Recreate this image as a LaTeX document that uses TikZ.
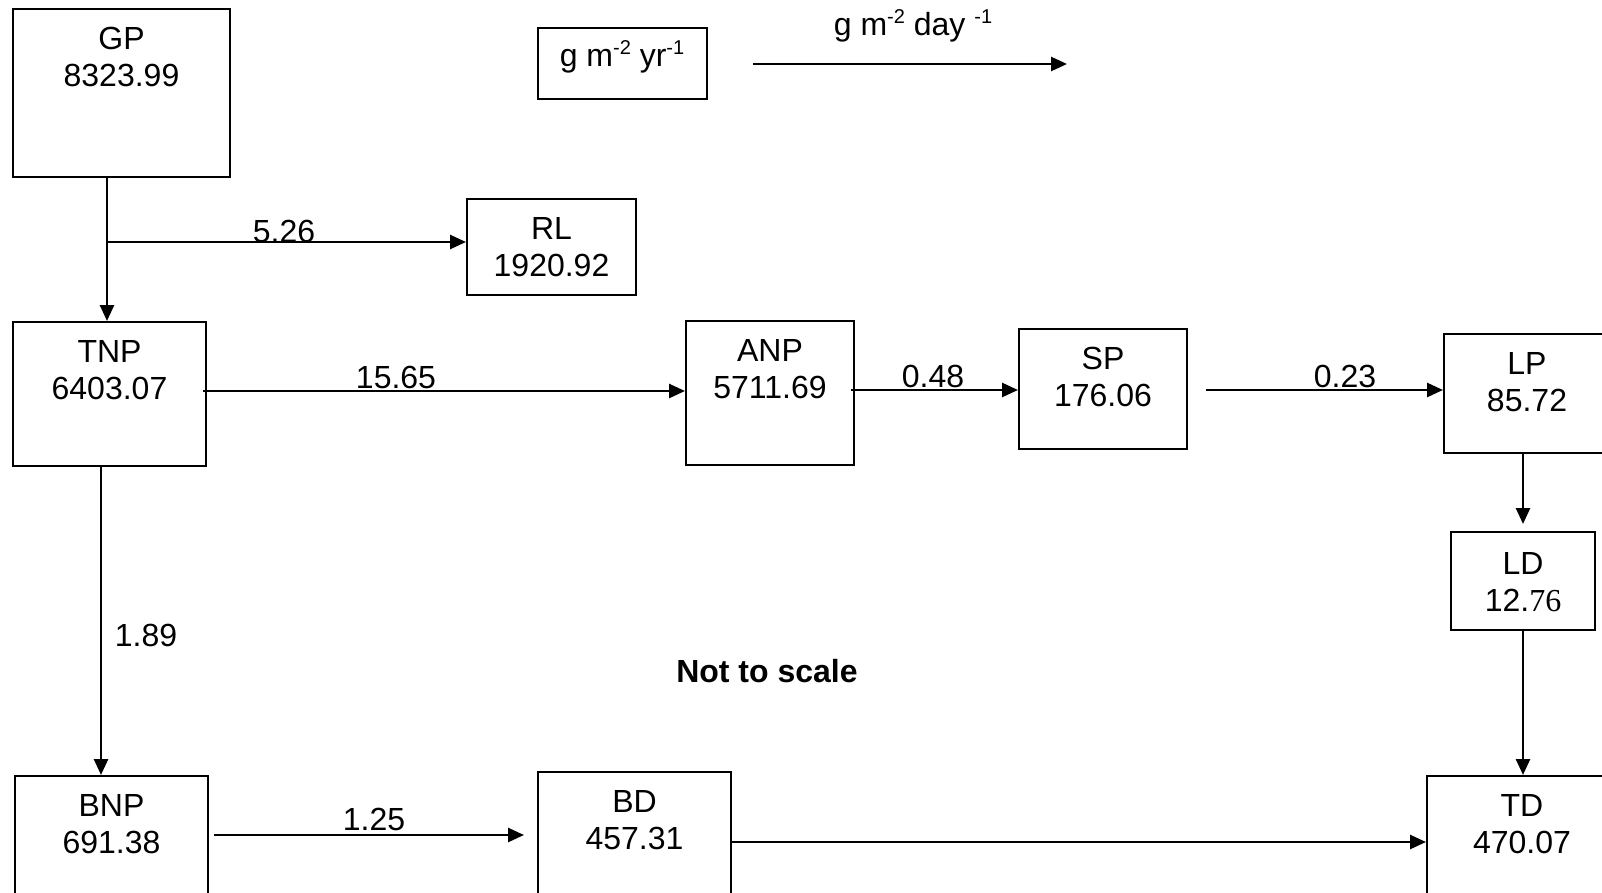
\documentclass[tikz,border=0pt]{standalone}
\usepackage{fontspec}
\setmainfont{Liberation Sans}
\newfontfamily\serifnum{Liberation Serif}
\usetikzlibrary{arrows.meta}
\newcommand\mysup[1]{\raisebox{12pt}{\fontsize{20}{20}\selectfont #1}}
\begin{document}
\begin{tikzpicture}[x=1pt,y=-1pt,
 box/.style={draw, line width=2pt, inner sep=0pt},
 txt/.style={align=center, inner sep=0pt, anchor=north, font=\fontsize{32}{37}\selectfont},
 lbl/.style={inner sep=0pt, anchor=base, font=\fontsize{32}{37}\selectfont},
 arr/.style={line width=2.6pt, -{Triangle[length=16pt,width=14pt]}},
 ]
\useasboundingbox (0,0) rectangle (1602,893);
\fill[white] (0,0) rectangle (1602,893);
\clip (0,0) rectangle (1602,893);

% boxes
\node[box, minimum width=217pt, minimum height=168pt] (gp) at (121.5,93) {};
\node[txt] (gpT) at ([yshift=-19pt]gp.north) {GP\\8323.99};

\node[box, minimum width=169pt, minimum height=71pt] (unit) at (622.5,63.5) {};
\node[lbl] (unitT) at (622,67) {g m\mysup{-2} yr\mysup{-1}};

\node[box, minimum width=169pt, minimum height=96pt] (rl) at (551.5,247) {};
\node[txt] (rlT) at ([yshift=-19pt]rl.north) {RL\\1920.92};

\node[box, minimum width=193pt, minimum height=144pt] (tnp) at (109.5,394) {};
\node[txt] (tnpT) at ([yshift=-19pt]tnp.north) {TNP\\6403.07};

\node[box, minimum width=168pt, minimum height=144pt] (anp) at (770,393) {};
\node[txt] (anpT) at ([yshift=-19pt]anp.north) {ANP\\5711.69};

\node[box, minimum width=168pt, minimum height=120pt] (sp) at (1103,389) {};
\node[txt] (spT) at ([yshift=-19pt]sp.north) {SP\\176.06};

\node[box, minimum width=166pt, minimum height=119pt] (lp) at (1527,393.5) {};
\node[txt] (lpT) at ([yshift=-19pt]lp.north) {LP\\85.72};

\node[box, minimum width=144pt, minimum height=98pt] (ld) at (1523,581) {};
\node[txt] (ldT) at ([yshift=-21pt]ld.north) {LD\\12.{\serifnum 76}};

\node[box, minimum width=190pt, minimum height=140pt] (td) at (1522,846) {};
\node[txt] (tdT) at ([yshift=-19pt]td.north) {TD\\470.07};

\node[box, minimum width=193pt, minimum height=140pt] (bd) at (634.5,842) {};
\node[txt] (bdT) at ([yshift=-19pt]bd.north) {BD\\457.31};

\node[box, minimum width=193pt, minimum height=140pt] (bnp) at (111.5,846) {};
\node[txt] (bnpT) at ([yshift=-19pt]bnp.north) {BNP\\691.38};

% legend arrow
\coordinate (legA) at (753,64);
\coordinate (legB) at (1067,64);
\draw[arr] (legA) -- (legB);
\node[lbl] (legT) at (913,36) {g m\mysup{-2} day \mysup{-1}};

% connectors
\draw[arr] ([xshift=-14.5pt]gp.south) -- ([xshift=-2.5pt]tnp.north);
\coordinate (br) at (107,242);
\draw[arr] (br) -- (br -| rl.west);
\node[lbl] (l526) at (284,243) {5.26};

\draw[arr] ([xshift=-4pt,yshift=3pt]tnp.east) coordinate (a1) -- (a1 -| anp.west);
\node[lbl] (l1565) at (396,388) {15.65};

\draw[arr] ([xshift=-4pt,yshift=3pt]anp.east) coordinate (a2) -- (a2 -| sp.west);
\node[lbl] (l048) at (933,387) {0.48};

\draw[arr] ([xshift=18pt,yshift=-1pt]sp.east) coordinate (a3) -- (a3 -| lp.west);
\node[lbl] (l023) at (1345,387) {0.23};

\draw[arr] (lp.south -| ld.north) -- ([yshift=7pt]ld.north);
\draw[arr] (ld.south) -- (ld.south |- td.north);

\draw[arr] ([xshift=-8.5pt]tnp.south) coordinate (a7) -- (a7 |- bnp.north);
\node[lbl] (l189) at (146,646) {1.89};

\draw[arr] ([xshift=5pt,yshift=11pt]bnp.east) coordinate (a8) -- ([xshift=-13pt]a8 -| bd.west);
\node[lbl] (l125) at (374,830) {1.25};

\draw[arr] (bd.east) -- (bd.east -| td.west);

\node[lbl, anchor=center, font=\fontsize{32}{37}\selectfont\bfseries] (nts) at (767,671) {Not to scale};
\end{tikzpicture}
\end{document}
